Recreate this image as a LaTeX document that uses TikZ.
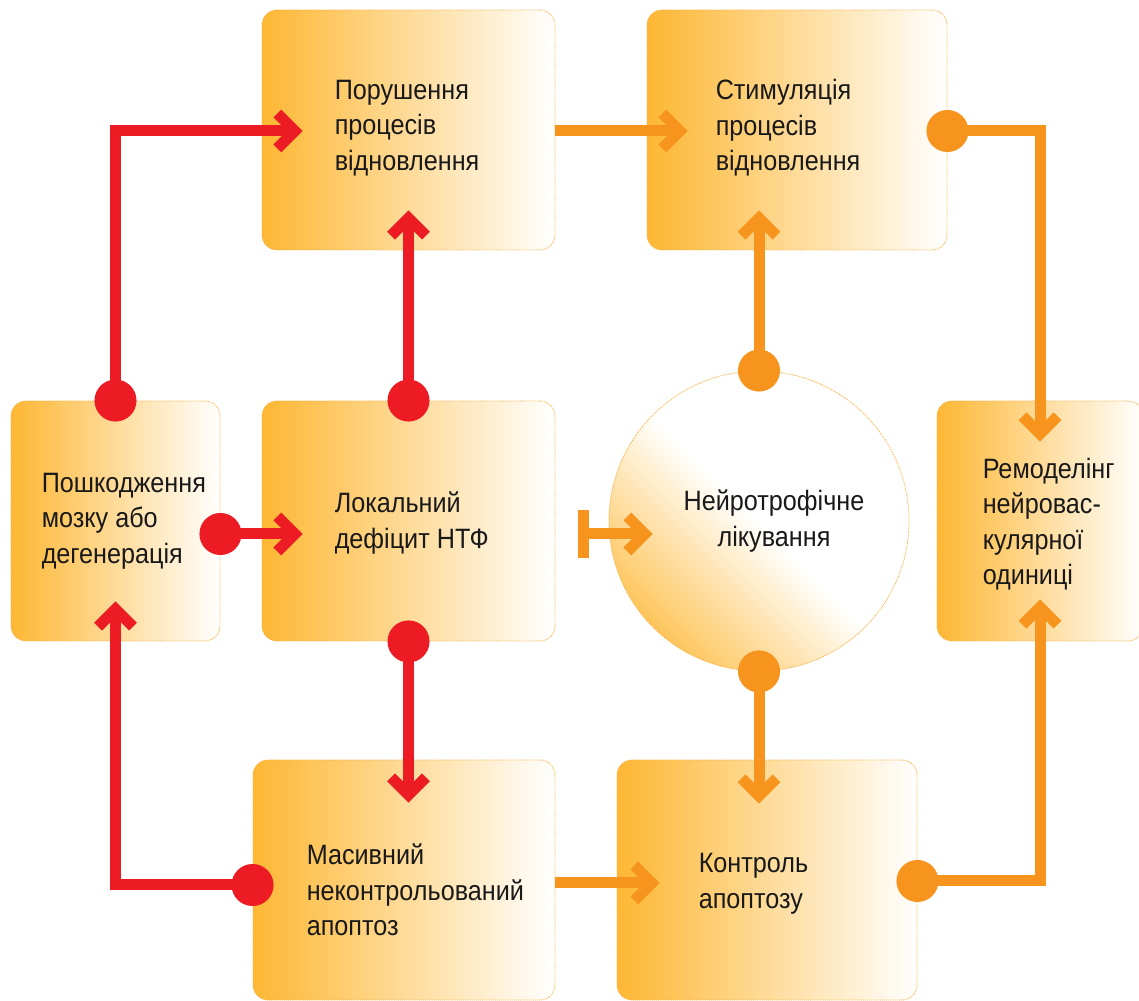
\documentclass[tikz,border=0pt]{standalone}
\usepackage{fontspec}
\setmainfont[FakeStretch=0.9]{Liberation Sans}
\usetikzlibrary{arrows.meta,positioning,calc}

\definecolor{lossred}{HTML}{ED1C24}
\definecolor{cureorange}{HTML}{F7941D}
\definecolor{boxorange}{HTML}{FDB733}
\definecolor{boxline}{HTML}{FBB040}

\tikzset{
  box/.style={rounded corners=15pt, draw=boxline, densely dotted, line width=0.9pt,
    left color=boxorange, right color=white, minimum height=240pt, inner sep=0pt},
  neuroball/.style={circle, draw=boxline, densely dotted, line width=0.9pt, minimum size=300pt,
    inner sep=0pt, bottom color=boxorange!80, top color=white, middle color=white, shading angle=-45},
  txt/.style={font=\fontsize{28}{35.5}\selectfont, text=black!90, align=left, anchor=west, inner sep=0pt},
  redline/.style={draw=lossred, line width=11pt, {Circle[length=42pt]}-{Straight Barb[length=17.5pt,width=35pt]}, shorten <=-21pt},
  orangeline/.style={draw=cureorange, line width=11pt, {Circle[length=42pt]}-{Straight Barb[length=17.5pt,width=35pt]}, shorten <=-21pt},
  orangeplain/.style={draw=cureorange, line width=11pt, -{Straight Barb[length=17.5pt,width=35pt]}},
  orangebar/.style={draw=cureorange, line width=11pt, {Bar[width=48pt]}-{Straight Barb[length=17.5pt,width=35pt]}}
}

\begin{document}
\begin{tikzpicture}[x=1pt,y=1pt]
    \useasboundingbox (0,0) rectangle (1139,1000);

    \node[box, minimum width=293pt] (pord) at (408.5,870) {};
    \node[box, minimum width=300pt] (stim) at (797,870) {};
    \node[box, minimum width=209pt] (posh) at (115.5,479) {};
    \node[box, minimum width=293pt] (lok) at (408.5,479) {};
    \node[neuroball] (neuro) at (759,479) {};
    \node[box, minimum width=206pt] (remod) at (1040,479) {};
    \node[box, minimum width=302pt] (masyv) at (404,120) {};
    \node[box, minimum width=300pt] (kontr) at (767,120) {};

    \node[txt] (t-pord) at ([xshift=73pt,yshift=2pt]pord.west) {Порушення\\процесів\\відновлення};
    \node[txt] (t-stim) at ([xshift=69pt,yshift=2pt]stim.west) {Стимуляція\\процесів\\відновлення};
    \node[txt] (t-posh) at ([xshift=31pt]posh.west) {Пошкодження\\мозку або\\дегенерація};
    \node[txt] (t-lok) at ([xshift=73pt,yshift=-2pt]lok.west) {Локальний\\дефіцит НТФ};
    \node[txt, anchor=center, align=center] (t-neuro) at ([xshift=15pt]neuro.center) {Нейротрофічне\\лікування};
    \node[txt] (t-remod) at ([xshift=46pt,yshift=-3pt]remod.west) {Ремоделінг\\нейровас-\\кулярної\\одиниці};
    \node[txt] (t-masyv) at ([xshift=54pt,yshift=-10pt]masyv.west) {Масивний\\неконтрольований\\апоптоз};
    \node[txt] (t-kontr) at ([xshift=82pt,yshift=-4pt]kontr.west) {Контроль\\апоптозу};

    \draw[redline] (posh.north) |- ([xshift=41pt,yshift=-1pt]pord.west);
    \draw[redline] (lok.north) -- ([yshift=40pt]pord.south);
    \draw[redline] ([yshift=-13pt]posh.east) -- ([xshift=41pt,yshift=-13pt]lok.west);
    \draw[redline] (lok.south) -- ($(lok.south |- masyv.north)+(0,-43pt)$);
    \draw[redline] ([yshift=-5pt]masyv.west) -| ([yshift=40pt]posh.south);

    \draw[orangeplain] ([yshift=-1pt]pord.east) -- ([xshift=41pt,yshift=-1pt]stim.west);
    \draw[orangeplain] ([yshift=-3pt]masyv.east) -- ([xshift=43pt,yshift=-3pt]kontr.west);
    \draw[orangeline] (neuro.north) -- ($(neuro.north |- stim.south)+(0,40pt)$);
    \draw[orangeline] (neuro.south) -- ($(neuro.south |- kontr.north)+(0,-44pt)$);
    \draw[orangeline] ([yshift=-1pt]stim.east) -| ([yshift=-41pt]remod.north);
    \draw[orangeline] ([yshift=-1pt]kontr.east) -| ([yshift=42pt]remod.south);
    \draw[orangebar] ([xshift=23pt,yshift=-13pt]lok.east) -- ([xshift=44pt,yshift=-13pt]neuro.west);

\end{tikzpicture}
\end{document}
